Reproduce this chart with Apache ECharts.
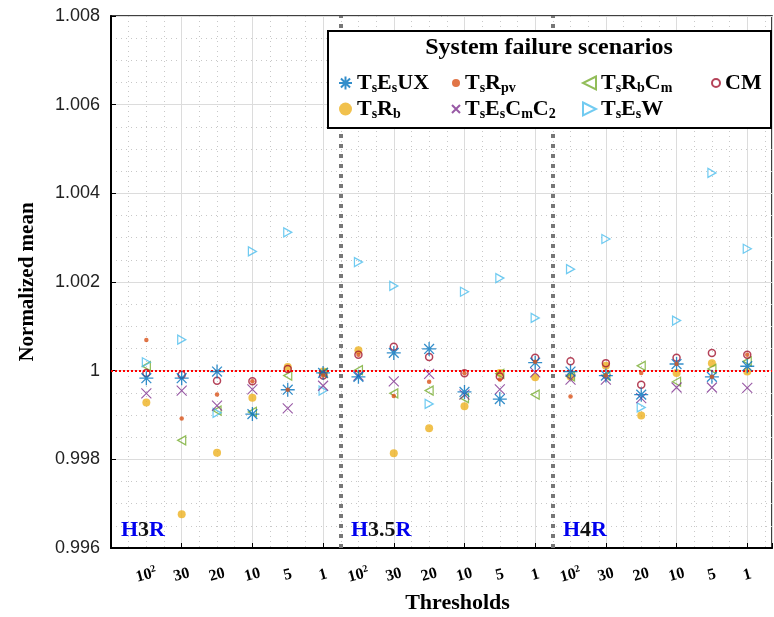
<!DOCTYPE html>
<html>
<head>
<meta charset="utf-8">
<script src="https://cdn.jsdelivr.net/npm/echarts@6/dist/echarts.min.js"></script>
<style>
html, body { margin: 0; padding: 0; background: #fff; }
#main { width: 774px; height: 617px; }
</style>
</head>
<body>
<div id="main"></div>
<script>
// threshold labels, repeated for each of the 3 groups
var thresholds = ['10^2', '30', '20', '10', '5', '1'];
var groups = ['H3R', 'H3.5R', 'H4R'];
var xPos = [1, 2, 3, 4, 5, 6, 7, 8, 9, 10, 11, 12, 13, 14, 15, 16, 17, 18];

// normalized means (one value per threshold position)
var TsEsUX   = [0.99983, 0.99983, 0.99998, 0.99902, 0.99957, 0.99995, 0.99986, 1.00040, 1.00049, 0.99952, 0.99936, 1.00018, 0.99998, 0.99989, 0.99946, 1.00015, 0.99986, 1.00010];
var TsRpv    = [1.00069, 0.99892, 0.99946, 0.99976, 0.99957, 0.99989, 1.00036, 0.99943, 0.99975, 0.99994, 0.99980, 1.00020, 0.99942, 0.99989, 0.99995, 1.00015, 0.99986, 1.00036];
var TsRbCm   = [1.00010, 0.99843, 0.99910, 0.99907, 0.99989, 0.99995, 1.00001, 0.99949, 0.99955, 0.99938, 0.99993, 0.99946, 0.99987, 0.99989, 1.00011, 0.99975, 1.00004, 1.00021];
var CM       = [0.99995, 0.99991, 0.99977, 0.99976, 1.00004, 0.99989, 1.00036, 1.00054, 1.00031, 0.99994, 0.99987, 1.00029, 1.00021, 1.00017, 0.99968, 1.00029, 1.00040, 1.00036];
var TsRb     = [0.99928, 0.99676, 0.99815, 0.99939, 1.00008, 0.99998, 1.00046, 0.99814, 0.99870, 0.99920, 0.99995, 0.99985, 0.99987, 1.00011, 0.99899, 0.99995, 1.00017, 0.99998];
var TsEsCmC2 = [0.99949, 0.99955, 0.99921, 0.99958, 0.99915, 0.99966, 0.99989, 0.99976, 0.99993, 0.99946, 0.99958, 0.99996, 0.99980, 0.99980, 0.99938, 0.99962, 0.99962, 0.99961];
var TsEsW    = [1.00019, 1.00070, 0.99905, 1.00269, 1.00312, 0.99955, 1.00245, 1.00191, 0.99925, 1.00178, 1.00209, 1.00119, 1.00229, 1.00297, 0.99917, 1.00113, 1.00446, 1.00275];

var serif = '"Liberation Serif", "DejaVu Serif", serif';

// marker shapes
var asterisk = 'path://M5,0L5,10M0,5L10,5M1.5,1.5L8.5,8.5M1.5,8.5L8.5,1.5';
var cross = 'path://M0,0L10,10M10,0L0,10';
var triRight = 'path://M0,0L10,5L0,10Z';
var triLeft = 'path://M10,0L0,5L10,10Z';
var none = 'rgba(0,0,0,0)';

function pts(vals) {
    return xPos.map(function (x, i) { return [x, vals[i]]; });
}

// "TsEsCmC2" -> T_s E_s C_m C_2 in rich text
function fmtName(name) {
    return name.replace(/([A-Z])([a-z0-9]*)/g, function (m, a, b) {
        return '{n|' + a + '}' + (b ? '{s|' + b + '}' : '');
    });
}
var richName = {
    n: { fontFamily: serif, fontWeight: 'bold', fontSize: 22, color: '#000', lineHeight: 24 },
    s: { fontFamily: serif, fontWeight: 'bold', fontSize: 14, color: '#000', lineHeight: 12, verticalAlign: 'bottom' }
};

function legendCol(names, left, w) {
    return {
        data: names, orient: 'vertical', left: left, top: 72,
        itemWidth: w, itemHeight: w, itemGap: 3, padding: 0,
        selectedMode: false, z: 101,
        formatter: fmtName,
        textStyle: { rich: richName }
    };
}

function sc(name, vals, symbol, size, itemStyle, z) {
    return {
        name: name, type: 'scatter', data: pts(vals),
        symbol: symbol, symbolSize: size, itemStyle: itemStyle,
        z: z, silent: true
    };
}

function hLabel(txt, x) {
    // H and R in blue, the number in black
    var m = txt.match(/^H(.*)R$/);
    return {
        type: 'text', left: x, top: 519, z: 50,
        style: {
            text: '{b|H}{k|' + m[1] + '}{b|R}',
            rich: {
                b: { fontFamily: serif, fontWeight: 'bold', fontSize: 22, fill: '#0000ee' },
                k: { fontFamily: serif, fontWeight: 'bold', fontSize: 22, fill: '#111' }
            }
        }
    };
}

var chart = echarts.init(document.getElementById('main'));

var option = {
    animation: false,
    backgroundColor: '#fff',
    grid: {
        left: 111, right: 2, top: 16, bottom: 69, outerBoundsMode: 'none',
        show: true, borderColor: '#000', borderWidth: 1.5
    },
    xAxis: [{
        type: 'value', min: 0, max: 18.7, interval: 2,
        name: 'Thresholds', nameLocation: 'middle', nameGap: 44,
        nameTextStyle: { fontFamily: serif, fontWeight: 'bold', fontSize: 22, color: '#000', padding: [0, 0, 0, 32] },
        axisLine: { lineStyle: { color: '#000', width: 2 } },
        axisTick: { inside: true, length: 5, lineStyle: { color: '#000' } },
        axisLabel: { show: false },
        splitLine: { lineStyle: { color: '#dcdcdc', width: 1 } },
        minorTick: { show: true, splitNumber: 4, length: 0 },
        minorSplitLine: { show: true, lineStyle: { color: '#c8c8c8', type: [1, 4] } }
    }, {
        type: 'value', min: 0, max: 18.7, interval: 1, position: 'bottom',
        axisLine: { show: false }, axisTick: { show: false }, splitLine: { show: false },
        axisLabel: {
            rotate: 15, margin: 27, align: 'center', verticalAlign: 'middle',
            formatter: function (v) {
                if (v < 1 || v > 18 || Math.round(v) !== v) return '';
                var t = thresholds[(v - 1) % 6];
                if (t === '10^2') return '{n|10}{p|2}';
                return '{n|' + t + '}';
            },
            rich: {
                n: { fontFamily: serif, fontWeight: 'bold', fontSize: 16, color: '#000', lineHeight: 18 },
                p: { fontFamily: serif, fontWeight: 'bold', fontSize: 10, color: '#000', lineHeight: 8, verticalAlign: 'top' }
            }
        }
    }],
    yAxis: {
        type: 'value', min: 0.996, max: 1.008, interval: 0.002,
        name: 'Normalized mean', nameLocation: 'middle', nameGap: 73,
        nameTextStyle: { fontFamily: serif, fontWeight: 'bold', fontSize: 21, color: '#000' },
        axisLine: { show: true, lineStyle: { color: '#000', width: 2 } },
        axisTick: { show: true, inside: true, length: 5, lineStyle: { color: '#000' } },
        axisLabel: {
            margin: 11, fontFamily: '"Liberation Sans", Arial, sans-serif', fontSize: 18, color: '#222',
            formatter: function (v) { return String(+v.toFixed(3)); }
        },
        splitLine: { lineStyle: { color: '#dcdcdc', width: 1 } },
        minorTick: { show: true, splitNumber: 4, length: 0 },
        minorSplitLine: { show: true, lineStyle: { color: '#c8c8c8', type: [1, 4] } }
    },
    legend: [
        legendCol(['TsEsUX', 'TsRb'], 338, 13),
        legendCol(['TsRpv', 'TsEsCmC2'], 451, 8),
        legendCol(['TsRbCm', 'TsEsW'], 582, 13),
        legendCol(['CM'], 711, 8)
    ],
    graphic: [
        { type: 'rect', shape: { x: 328, y: 31, width: 443, height: 97 }, style: { fill: '#fff', stroke: '#000', lineWidth: 2 }, z: 100 },
        { type: 'text', x: 549, y: 48, z: 101,
          style: { text: 'System failure scenarios', fontFamily: serif, fontWeight: 'bold', fontSize: 24, fill: '#000', textAlign: 'center', textVerticalAlign: 'middle' } },
        hLabel(groups[0], 121),
        hLabel(groups[1], 351),
        hLabel(groups[2], 563)
    ],
    series: [
        {
            // group separators and the reference line at 1
            type: 'scatter', data: [], silent: true, z: 1,
            markLine: {
                silent: true, symbol: 'none', label: { show: false }, animation: false,
                data: [
                    { xAxis: 6.5, lineStyle: { color: '#777', width: 4, type: [4, 6] } },
                    { xAxis: 12.5, lineStyle: { color: '#777', width: 4, type: [4, 6] } },
                    { yAxis: 1, lineStyle: { color: '#ff0000', width: 2, type: [2, 2] } }
                ]
            }
        },
        sc('TsRb', TsRb, 'circle', 8, { color: '#EDB120' }, 2),
        sc('TsRbCm', TsRbCm, triLeft, [8, 9], { color: none, borderColor: '#77AC30', borderWidth: 1.3 }, 3),
        sc('TsEsW', TsEsW, triRight, [8, 9], { color: none, borderColor: '#4DBEEE', borderWidth: 1.3 }, 3),
        sc('TsEsCmC2', TsEsCmC2, cross, 10, { color: none, borderColor: '#7E2F8E', borderWidth: 1.1 }, 4),
        sc('CM', CM, 'circle', 7, { color: none, borderColor: '#A2142F', borderWidth: 1.5 }, 4),
        sc('TsEsUX', TsEsUX, asterisk, 14, { color: none, borderColor: '#0072BD', borderWidth: 1.3 }, 5),
        sc('TsRpv', TsRpv, 'circle', 4.5, { color: '#D95319' }, 6)
    ]
};

chart.setOption(option);
</script>
</body>
</html>
